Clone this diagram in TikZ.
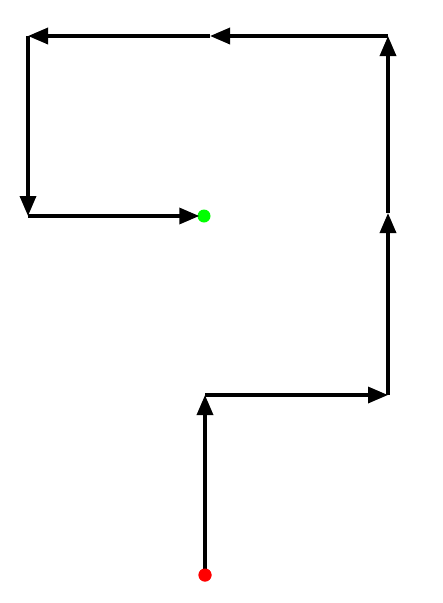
\documentclass[tikz,border=0pt]{standalone}
\usetikzlibrary{arrows.meta}
\begin{document}
\begin{tikzpicture}[x=1pt,y=-1pt,
  seg/.style={line width=3.4pt,-{Triangle[length=20pt,width=16pt]}},
  dotred/.style={circle,fill=red,inner sep=0pt,minimum size=13pt},
  dotgreen/.style={circle,fill=green,inner sep=0pt,minimum size=13pt}]
\useasboundingbox (0,0) rectangle (443,603);
\node[dotred] (start) at (205,575) {};
\node[dotgreen] (end) at (204,216) {};
\coordinate (p1) at (205,395);
\coordinate (p2) at (388,395);
\coordinate (p3) at (388,213);
\coordinate (p4) at (388,36);
\coordinate (p5) at (210,36);
\coordinate (p6) at (28,36);
\coordinate (p7) at (28,216);
\draw[seg] (start.center) -- (p1);
\draw[seg] (p1) -- (p2);
\draw[seg] (p2) -- (p3);
\draw[seg] (p3) -- (p4);
\draw[seg] (p4) -- (p5);
\draw[seg] (p5) -- (p6);
\draw[seg] (p6) -- (p7);
\draw[seg,shorten >=-2pt] (p7) -- (end.west);
\node[dotred] at (start) {};
\end{tikzpicture}
\end{document}
